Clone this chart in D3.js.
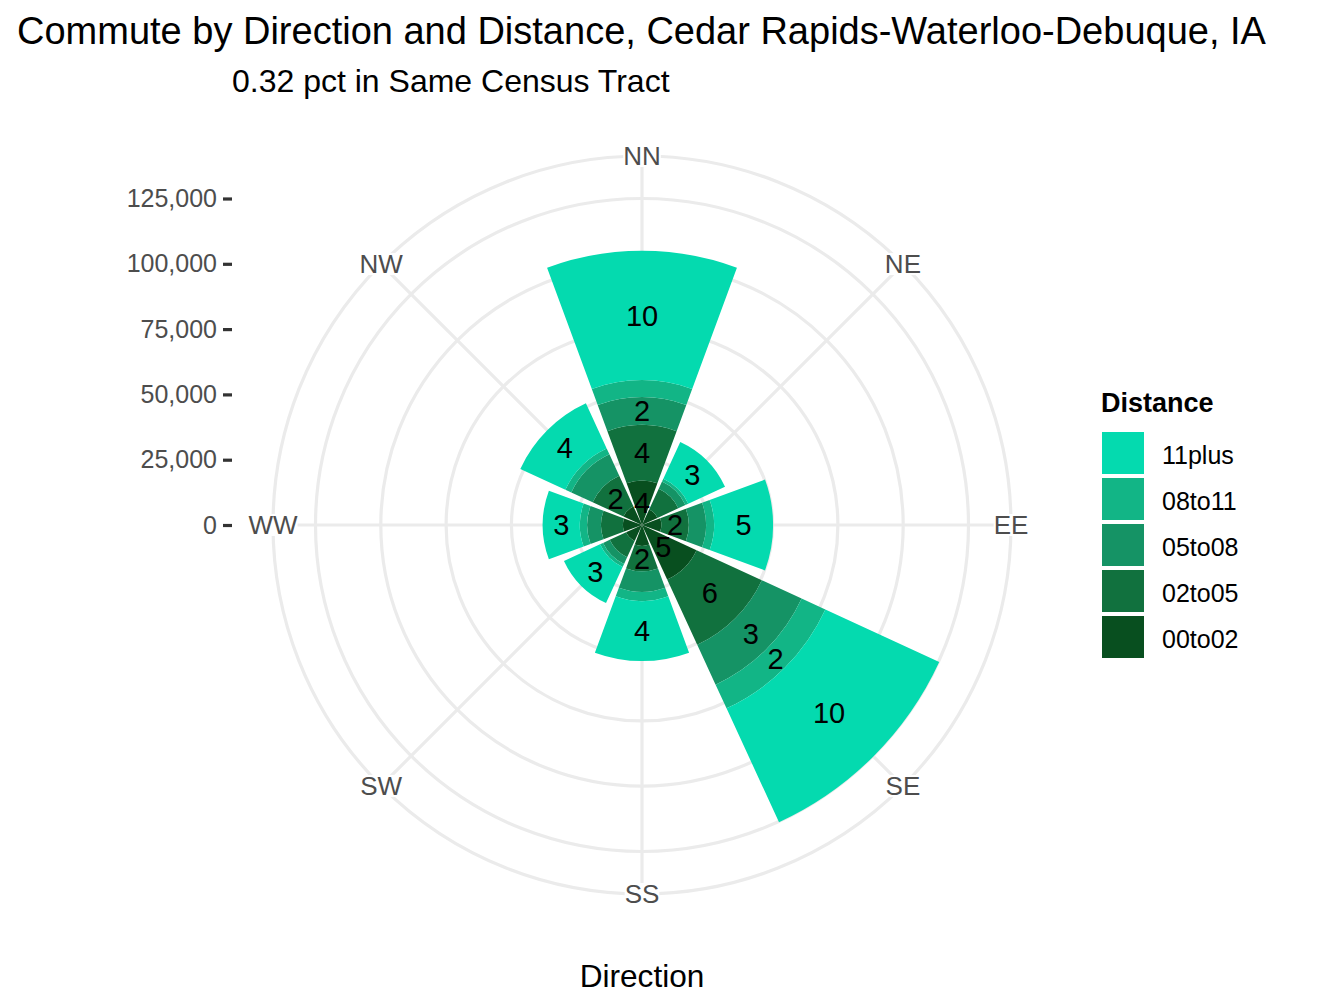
<!DOCTYPE html>
<html>
<head>
<meta charset="utf-8">
<script src="https://cdn.jsdelivr.net/npm/d3@7"></script>
<style>
  html, body { margin: 0; background: #fff; }
  text { font-family: "Liberation Sans", Arial, sans-serif; }
</style>
</head>
<body>
<div id="chart"></div>
<script>
const directions = ["NN", "NE", "EE", "SE", "SS", "SW", "WW", "NW"]
const distances = ["00to02", "02to05", "05to08", "08to11", "11plus"]
const colors = ["#084f1f", "#11713e", "#159365", "#12b586", "#04daaf"]

// commuters per direction
const d00to02 = [17000, 6500, 7400, 23000, 8000, 6700, 7300, 7800]
const d02to05 = [21300, 8800, 10500, 27500, 9700, 6900, 8400, 13000]
const d05to08 = [10700, 3000, 6600, 16800, 7900, 2800, 5300, 9000]
const d08to11 = [6500, 1200, 3100, 10000, 3500, 1300, 2800, 2500]
const d11plus = [49500, 15500, 22600, 48000, 23000, 15200, 14200, 19000]
const series = [d00to02, d02to05, d05to08, d08to11, d11plus]

// percent labels on the bars, null where none is printed
const p00to02 = [4, null, null, 5, null, null, null, null]
const p02to05 = [4, null, 2, 6, 2, null, null, 2]
const p05to08 = [2, null, null, 3, null, null, null, null]
const p08to11 = [null, null, null, 2, null, null, null, null]
const p11plus = [10, 3, 5, 10, 4, 3, 3, 4]
const pctLabels = [p00to02, p02to05, p05to08, p08to11, p11plus]

const radialTicks = [0, 25000, 50000, 75000, 100000, 125000]
const legendOrder = ["11plus", "08to11", "05to08", "02to05", "00to02"]

const width = 1344, height = 1008
const cx = 642, cy = 525
const outerR = 369

const svg = d3.select("#chart").append("svg")
    .attr("width", width).attr("height", height)
    .style("display", "block")

const r = d3.scaleLinear().domain([0, 125000]).range([0, 326.5])
const theta = d3.scaleBand().domain(directions).range([-Math.PI / 8, 2 * Math.PI - Math.PI / 8]).paddingInner(0.1).paddingOuter(0.05)
const color = d3.scaleOrdinal().domain(distances).range(colors)
const center = name => theta(name) + theta.bandwidth() / 2

const plot = svg.append("g").attr("transform", `translate(${cx},${cy})`)

// grid
const grid = plot.append("g").attr("fill", "none").attr("stroke", "#ebebeb").attr("stroke-width", 3.2)
grid.selectAll("circle.ring").data(radialTicks.slice(1)).join("circle")
    .attr("class", "ring").attr("r", d => r(d))
grid.append("circle").attr("r", outerR)
grid.selectAll("line").data(directions).join("line")
    .attr("x2", d => outerR * Math.sin(center(d)))
    .attr("y2", d => -outerR * Math.cos(center(d)))

// stacked wedges
const arc = d3.arc()
const stack = d3.stack().keys(d3.range(distances.length)).value((row, k) => row[k])
const rows = directions.map((d, i) => series.map(s => s[i]))
const layers = stack(rows)

plot.selectAll("g.layer").data(layers).join("g")
    .attr("class", "layer")
    .attr("fill", (d, i) => colors[i])
    .selectAll("path").data(d => d).join("path")
    .attr("d", (d, i) => arc({
        innerRadius: r(d[0]),
        outerRadius: r(d[1]),
        startAngle: theta(directions[i]),
        endAngle: theta(directions[i]) + theta.bandwidth()
    }))

// percent labels
layers.forEach((layer, k) => {
    layer.forEach((d, i) => {
        const label = pctLabels[k][i]
        if (label === null) return
        const a = center(directions[i])
        const rm = r((d[0] + d[1]) / 2)
        plot.append("text")
            .attr("x", rm * Math.sin(a))
            .attr("y", -rm * Math.cos(a))
            .attr("dy", "0.36em")
            .attr("text-anchor", "middle")
            .attr("font-size", 29)
            .attr("fill", "#000")
            .text(label)
    })
})

// direction labels, the grid stops at their edges
const dirLabels = plot.selectAll("g.dir").data(directions).join("g")
    .attr("class", "dir")
    .attr("transform", d => `translate(${outerR * Math.sin(center(d))},${-outerR * Math.cos(center(d))})`)
const backing = dirLabels.append("rect").attr("fill", "#fff")
dirLabels.append("text")
    .attr("dy", "0.36em")
    .attr("text-anchor", "middle")
    .attr("font-size", 26)
    .attr("fill", "#4d4d4d")
    .text(d => d)
backing.each(function () {
    const w = this.parentNode.querySelector("text").getComputedTextLength()
    d3.select(this).attr("x", -w / 2).attr("width", w).attr("y", -11).attr("height", 22)
})

// radial axis on the left
const yAxis = svg.append("g").attr("transform", `translate(232,${cy})`)
const ry = r.copy().range([0, -326.5])
yAxis.call(d3.axisLeft(ry).tickValues(radialTicks).tickFormat(d3.format(",")).tickSize(9).tickPadding(6))
yAxis.select(".domain").remove()
yAxis.selectAll(".tick line").attr("stroke", "#333").attr("stroke-width", 3.2)
yAxis.selectAll(".tick text")
    .attr("font-size", 25)
    .attr("fill", "#4d4d4d")
    .attr("font-family", '"Liberation Sans", Arial, sans-serif')

// titles
svg.append("text").attr("x", 17).attr("y", 44).attr("font-size", 38).attr("fill", "#000")
    .text("Commute by Direction and Distance, Cedar Rapids-Waterloo-Debuque, IA")
svg.append("text").attr("x", 232).attr("y", 92).attr("font-size", 32).attr("fill", "#000")
    .text("0.32 pct in Same Census Tract")
svg.append("text").attr("x", cx).attr("y", 987).attr("text-anchor", "middle").attr("font-size", 31.6).attr("fill", "#000")
    .text("Direction")

// legend
const legend = svg.append("g")
legend.append("text").attr("x", 1101).attr("y", 412).attr("font-size", 27).attr("font-weight", "bold").text("Distance")
const item = d3.scaleBand().domain(legendOrder).range([431, 661])
const rowsG = legend.selectAll("g.item").data(legendOrder).join("g").attr("class", "item")
    .attr("transform", d => `translate(1102,${item(d)})`)
rowsG.append("rect")
    .attr("width", 42).attr("y", 1).attr("height", item.bandwidth() - 4)
    .attr("fill", d => color(d))
rowsG.append("text")
    .attr("x", 60).attr("y", item.bandwidth() / 2 + 1)
    .attr("dy", "0.36em")
    .attr("font-size", 25)
    .attr("fill", "#000")
    .text(d => d)
</script>
</body>
</html>
